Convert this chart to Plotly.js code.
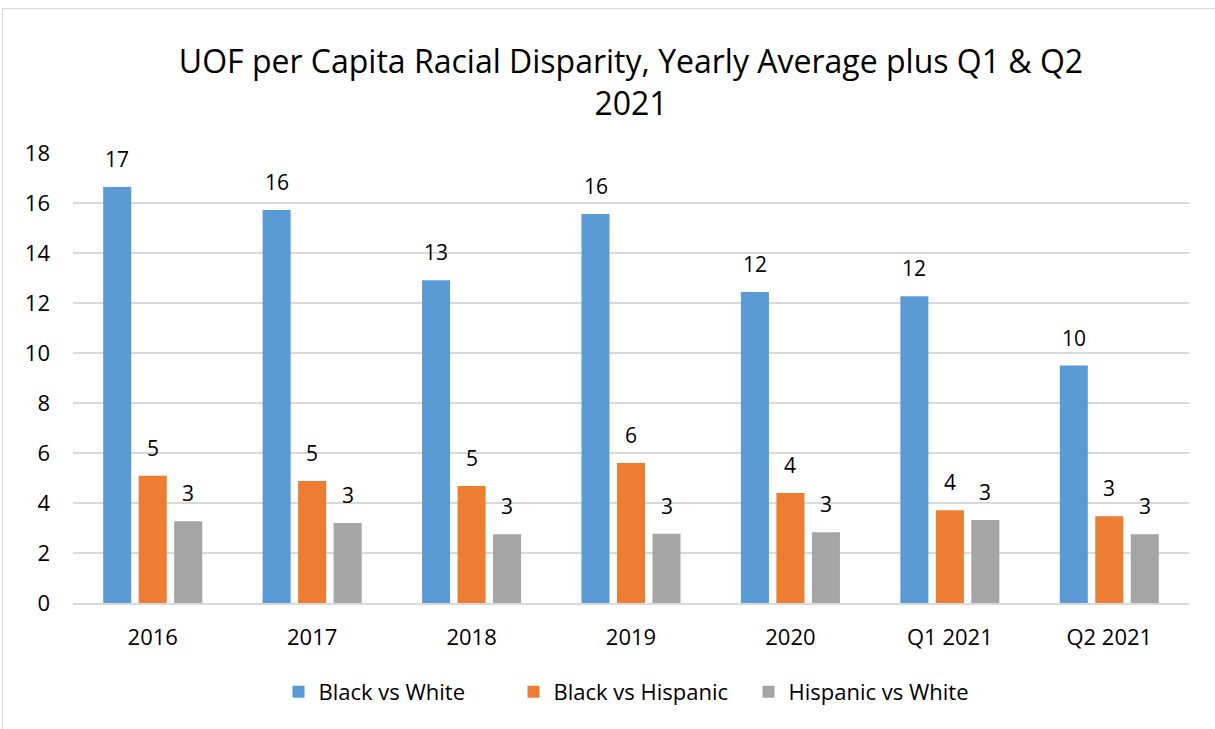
<!DOCTYPE html>
<html>
<head>
<meta charset="utf-8">
<script src="https://cdn.plot.ly/plotly-3.0.1.min.js"></script>
<style>
html,body{margin:0;padding:0;background:#fff;}
#chart{position:absolute;left:0;top:0;width:1215px;height:729px;}
#frame{position:absolute;left:2px;top:8px;width:1230px;height:740px;border:1px solid #d9d9d9;pointer-events:none;}
</style>
</head>
<body>
<div id="chart"></div>
<div id="frame"></div>
<script>
const categories = ["2016","2017","2018","2019","2020","Q1 2021","Q2 2021"];
const blackVsWhite = [16.64, 15.72, 12.91, 15.56, 12.44, 12.27, 9.5];
const blackVsHispanic = [5.09, 4.88, 4.68, 5.6, 4.4, 3.71, 3.47];
const hispanicVsWhite = [3.27, 3.2, 2.75, 2.77, 2.83, 3.32, 2.75];
const seriesNames = ["Black vs White","Black vs Hispanic","Hispanic vs White"];
const colors = ["#5b9bd5","#ed7d31","#a5a5a5"];
const allSeries = [blackVsWhite, blackVsHispanic, hispanicVsWhite];

const FONT = "Open Sans, Noto Sans, sans-serif";
const traces = allSeries.map((vals, i) => ({
  type: "bar",
  name: seriesNames[i],
  x: categories,
  y: vals,
  marker: {color: colors[i]},
  hoverinfo: "x+y+name"
}));

// data labels, placed above each bar (x given as category index)
const BAR_PITCH = 35.5;
const annotations = [];
allSeries.forEach((vals, i) => {
  vals.forEach((v, j) => {
    annotations.push({
      x: j, y: v, xref: "x", yref: "y",
      text: String(Math.round(v)),
      showarrow: false,
      xanchor: "center", yanchor: "bottom",
      xshift: (i - 1) * BAR_PITCH,
      yshift: 12,
      font: {family: FONT, size: 21, color: "#000"}
    });
  });
});

const layout = {
  width: 1215, height: 729,
  margin: {l: 73, r: 26, t: 153, b: 126},
  paper_bgcolor: "#fff", plot_bgcolor: "#fff",
  font: {family: FONT, size: 22, color: "#000"},
  title: {
    text: "UOF per Capita Racial Disparity, Yearly Average plus Q1 & Q2<br>2021",
    font: {family: FONT, size: 32, color: "#000"},
    x: 0.5, xanchor: "center", xref: "paper",
    yref: "container", y: 1 - 73 / 729, yanchor: "top"
  },
  barmode: "group",
  bargap: 0.332,
  bargroupgap: 0.21,
  xaxis: {
    type: "category",
    range: [-0.5, categories.length - 0.5],
    showgrid: false,
    showline: true, linecolor: "#d9d9d9", linewidth: 2,
    ticks: "",
    ticklabelstandoff: 14,
    tickfont: {family: FONT, size: 22, color: "#000"}
  },
  yaxis: {
    range: [0, 18],
    dtick: 2,
    showgrid: true, gridcolor: "#d9d9d9", gridwidth: 2,
    zeroline: false,
    showline: false,
    ticks: "",
    ticklabelstandoff: 22,
    tickfont: {family: FONT, size: 22, color: "#000"}
  },
  annotations: annotations,
  showlegend: true,
  legend: {
    orientation: "h",
    x: 0.5, xanchor: "center",
    y: -(692 - 603) / 450, yanchor: "middle",
    font: {family: FONT, size: 22, color: "#000"},
    itemwidth: 30,
    entrywidth: 190, entrywidthmode: "pixels",
    traceorder: "normal"
  }
};

Plotly.newPlot("chart", traces, layout, {displayModeBar: false, staticPlot: true});
</script>
</body>
</html>
